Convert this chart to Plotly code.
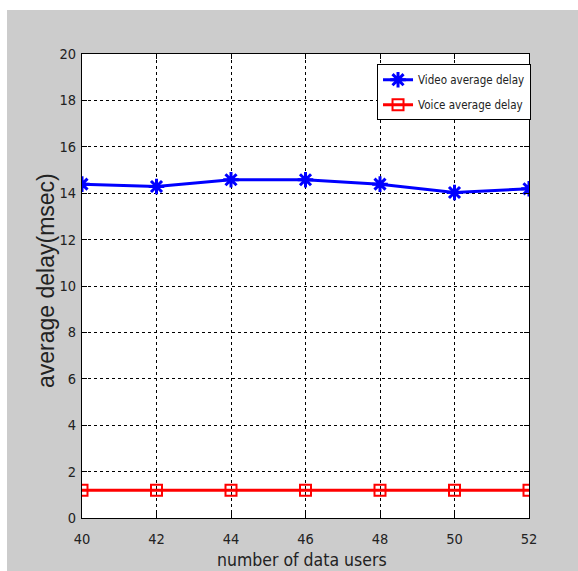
import plotly.graph_objects as go

users = [40, 42, 44, 46, 48, 50, 52]
video_delay = [14.39, 14.29, 14.58, 14.58, 14.39, 14.03, 14.19]
voice_delay = [1.2, 1.2, 1.2, 1.2, 1.2, 1.2, 1.2]
x_ticks = [40, 42, 44, 46, 48, 50, 52]
y_ticks = [0, 2, 4, 6, 8, 10, 12, 14, 16, 18, 20]

NARROW = "DejaVu Sans Condensed, Liberation Sans Narrow, Arial Narrow, sans-serif"

fig = go.Figure()
fig.add_trace(go.Scatter(
    x=users, y=video_delay, mode="lines+markers", name="Video average delay",
    legendgroup="v",
    line=dict(color="#0000ff", width=3),
    marker=dict(symbol="asterisk-open", size=13, color="#0000ff",
                line=dict(color="#0000ff", width=3)),
))
fig.add_trace(go.Scatter(
    x=users, y=voice_delay, mode="lines+markers", name="Voice average delay",
    legendgroup="a",
    line=dict(color="#ff0000", width=3),
    marker=dict(symbol="square-open", size=11, color="#ff0000",
                line=dict(color="#ff0000", width=2)),
))

axis_common = dict(
    showline=True, linecolor="black", linewidth=1, mirror="ticks",
    ticks="inside", ticklen=5, tickcolor="black",
    showgrid=True, gridcolor="black", gridwidth=1, griddash="3px,3px",
    zeroline=False, tickfont=dict(family=NARROW, size=14.5, color="#222222"),
)

fig.update_xaxes(range=[40, 52], tickvals=x_ticks, ticklabelstandoff=8, **axis_common)
fig.update_yaxes(range=[0, 20], tickvals=y_ticks, ticklabelstandoff=2, **axis_common)

fig.update_layout(
    width=578, height=571,
    margin=dict(l=82, r=49, t=54, b=53),
    paper_bgcolor="#cccccc", plot_bgcolor="white",
    showlegend=True,
    legend=dict(x=0.66, y=0.978, xanchor="left", yanchor="top",
                bgcolor="white", bordercolor="black", borderwidth=1,
                font=dict(family=NARROW, size=11.5, color="#222222"),
                tracegroupgap=6, itemwidth=30),
    shapes=[
        dict(type="rect", xref="paper", yref="paper",
             x0=-0.2, x1=1.2, y0=(518 - 10) / 464, y1=1.3,
             fillcolor="white", line=dict(width=0), layer="below"),
        dict(type="rect", xref="paper", yref="paper",
             x0=-0.2, x1=(7 - 82) / 447, y0=-0.2, y1=1.3,
             fillcolor="white", line=dict(width=0), layer="below"),
    ],
    annotations=[
        dict(text="average delay(msec)", xref="paper", yref="paper",
             x=(46 - 82) / 447, y=(518 - 281) / 464, xanchor="center", yanchor="middle",
             textangle=-90, showarrow=False,
             font=dict(family="Liberation Sans, Arial, sans-serif", size=23, color="#222222")),
        dict(text="number of data users", xref="paper", yref="paper",
             x=(302 - 82) / 447, y=(518 - 560) / 464, xanchor="center", yanchor="middle",
             showarrow=False,
             font=dict(family=NARROW, size=17.5, color="#222222")),
    ],
)

fig.write_html("out.html")
